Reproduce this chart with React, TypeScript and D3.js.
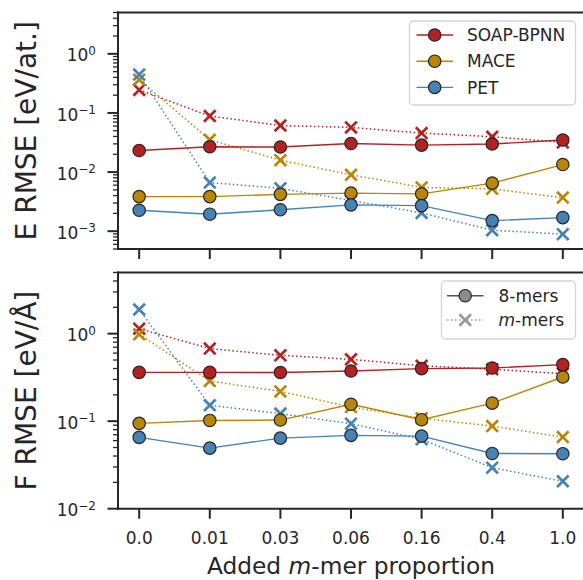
import React from "react";
import * as d3 from "d3";

const categories = ["0.0", "0.01", "0.03", "0.06", "0.16", "0.4", "1.0"];
const models = ["SOAP-BPNN", "MACE", "PET"];
const colors = ["#b22222", "#b8860b", "#4682b4"];

// Energy RMSE [eV/at.]
const E8 = [
  [0.0232, 0.0268, 0.0265, 0.0305, 0.0286, 0.0298, 0.0348],
  [0.00385, 0.00385, 0.0042, 0.0044, 0.00428, 0.0065, 0.0134],
  [0.00226, 0.00194, 0.0023, 0.00279, 0.00271, 0.00151, 0.0017],
];
const Em = [
  [0.245, 0.0888, 0.0613, 0.0569, 0.0457, 0.0396, 0.0317],
  [0.366, 0.0352, 0.0159, 0.009, 0.0055, 0.0052, 0.0037],
  [0.445, 0.00665, 0.0053, 0.0033, 0.00204, 0.00104, 0.00089],
];
// Force RMSE [eV/Å]
const F8 = [
  [0.361, 0.361, 0.36, 0.374, 0.399, 0.405, 0.443],
  [0.0944, 0.102, 0.103, 0.156, 0.104, 0.161, 0.32],
  [0.0653, 0.0492, 0.0641, 0.0688, 0.0675, 0.0428, 0.0425],
];
const Fm = [
  [1.14, 0.675, 0.566, 0.509, 0.43, 0.392, 0.35],
  [0.984, 0.288, 0.219, 0.145, 0.108, 0.0879, 0.0658],
  [1.89, 0.152, 0.122, 0.0936, 0.062, 0.0294, 0.0206],
];

const eTicks = [-3, -2, -1, 0];
const fTicks = [-2, -1, 0];

const W = 583;
const H = 580;
const left = 118;
const right = 584;
const ink = "#262626";
const fontFamily = "'DejaVu Sans', sans-serif";
const R = 6.2;

const x = d3.scaleLinear().domain([-0.3, categories.length - 1 + 0.3]).range([left, right]);

function minorTicks(lo: number, hi: number) {
  const out: number[] = [];
  const d0 = Math.floor(Math.log10(lo));
  const d1 = Math.ceil(Math.log10(hi));
  for (let d = d0; d <= d1; d++) {
    for (let k = 2; k <= 9; k++) {
      const v = k * Math.pow(10, d);
      if (v >= lo * 0.999 && v <= hi * 1.001) out.push(v);
    }
  }
  return out;
}

function XMark({ cx, cy, color, s = 5.8, sw = 2.7 }: any) {
  return (
    <g stroke={color} strokeWidth={sw} strokeLinecap="butt">
      <line x1={cx - s} y1={cy - s} x2={cx + s} y2={cy + s} />
      <line x1={cx - s} y1={cy + s} x2={cx + s} y2={cy - s} />
    </g>
  );
}

function Panel({ top, bottom, domain, majors, s8, sm, ylabel }: any) {
  const y = d3.scaleLog().domain(domain).range([bottom, top]);
  const line = d3
    .line<number>()
    .x((_, i) => x(i))
    .y((v) => y(v));
  const minors = minorTicks(domain[0], domain[1]);
  const mid = (top + bottom) / 2;
  return (
    <g>
      {minors.map((v, i) => (
        <line key={"mi" + i} x1={left - 5} x2={left} y1={y(v)} y2={y(v)} stroke={ink} strokeWidth={1.3} />
      ))}
      {majors.map((e: number) => (
        <g key={"ma" + e}>
          <line x1={left - 10.5} x2={left} y1={y(Math.pow(10, e))} y2={y(Math.pow(10, e))} stroke={ink} strokeWidth={2} />
          <text
            x={96}
            y={y(Math.pow(10, e)) + 7.6}
            textAnchor="end"
            fontSize={17}
            fill={ink}
            fontFamily={fontFamily}
          >
            <tspan>10</tspan>
            <tspan dy={-6.5} fontSize={12}>{e < 0 ? "\u2212" + Math.abs(e) : String(e)}</tspan>
          </text>
        </g>
      ))}
      {categories.map((c, i) => (
        <line key={"xt" + i} x1={x(i)} x2={x(i)} y1={bottom} y2={bottom + 10} stroke={ink} strokeWidth={2} />
      ))}
      {sm.map((vals: number[], k: number) => (
        <g key={"m" + k}>
          <path d={line(vals) || ""} fill="none" stroke={colors[k]} strokeWidth={1.5} strokeDasharray="1.5 2.5" />
          {vals.map((v, i) => (
            <XMark key={i} cx={x(i)} cy={y(v)} color={colors[k]} />
          ))}
        </g>
      ))}
      {s8.map((vals: number[], k: number) => (
        <g key={"s" + k}>
          <path d={line(vals) || ""} fill="none" stroke={colors[k]} strokeWidth={1.4} />
          {vals.map((v, i) => (
            <circle key={i} cx={x(i)} cy={y(v)} r={R} fill={colors[k]} stroke={ink} strokeWidth={1.2} />
          ))}
        </g>
      ))}
      <line x1={left} x2={left} y1={top} y2={bottom} stroke={ink} strokeWidth={2} strokeLinecap="square" />
      <line x1={left} x2={right} y1={top} y2={top} stroke={ink} strokeWidth={2} strokeLinecap="square" />
      <line x1={left} x2={right} y1={bottom} y2={bottom} stroke={ink} strokeWidth={2} strokeLinecap="square" />
      <line x1={right} x2={right} y1={top} y2={bottom} stroke={ink} strokeWidth={2} />
      <text
        transform={`translate(36,${mid}) rotate(-90)`}
        textAnchor="middle"
        fontSize={28}
        fill={ink}
        fontFamily={fontFamily}
      >
        {ylabel}
      </text>
    </g>
  );
}

export default function App() {
  const topA = 12.5, botA = 249;
  const topB = 272.5, botB = 508.7;
  return (
    <svg
      width={W}
      height={H}
      viewBox={`0 0 ${W} ${H}`}
      style={{ position: "absolute", left: 0, top: 0, background: "#fff" }}
      fontFamily={fontFamily}
    >
      <rect width={W} height={H} fill="#fff" />
      <Panel top={topA} bottom={botA} domain={[5e-4, 5]} majors={eTicks} s8={E8} sm={Em} ylabel="E RMSE [eV/at.]" />
      <Panel top={topB} bottom={botB} domain={[1e-2, 5]} majors={fTicks} s8={F8} sm={Fm} ylabel="F RMSE [eV/Å]" />
      {categories.map((c, i) => (
        <text key={c} x={x(i)} y={544} textAnchor="middle" fontSize={17} fill={ink}>
          {c}
        </text>
      ))}
      <text x={351} y={573.5} textAnchor="middle" fontSize={23.3} fill={ink}>
        Added <tspan fontStyle="italic">m</tspan>-mer proportion
      </text>

      <rect x={409.5} y={21} width={166} height={84} rx={4} fill="#fff" fillOpacity={0.85} stroke="#d4d4d4" strokeWidth={1.3} />
      {models.map((m, k) => {
        const ry = 35 + k * 26.2;
        return (
          <g key={m}>
            <line x1={416.5} x2={453} y1={ry} y2={ry} stroke={colors[k]} strokeWidth={1.4} />
            <circle cx={434.7} cy={ry} r={R} fill={colors[k]} stroke={ink} strokeWidth={1.2} />
            <text x={467} y={ry + 6.2} fontSize={17} fill={ink}>
              {m}
            </text>
          </g>
        );
      })}

      <rect x={441.5} y={281} width={134} height={58} rx={4} fill="#fff" fillOpacity={0.85} stroke="#d4d4d4" strokeWidth={1.3} />
      <line x1={447} x2={483.5} y1={295.7} y2={295.7} stroke="#555" strokeWidth={1.4} />
      <circle cx={465.2} cy={295.7} r={R} fill="#8c8c8c" stroke={ink} strokeWidth={1.2} />
      <text x={498.5} y={301.9} fontSize={17} fill={ink}>8-mers</text>
      <line x1={447} x2={483.5} y1={320} y2={320} stroke="#999" strokeWidth={1.5} strokeDasharray="1.5 2.5" />
      <XMark cx={465.2} cy={320} color="#9a9a9a" />
      <text x={498.5} y={326.2} fontSize={17} fill={ink}>
        <tspan fontStyle="italic">m</tspan>-mers
      </text>
    </svg>
  );
}
